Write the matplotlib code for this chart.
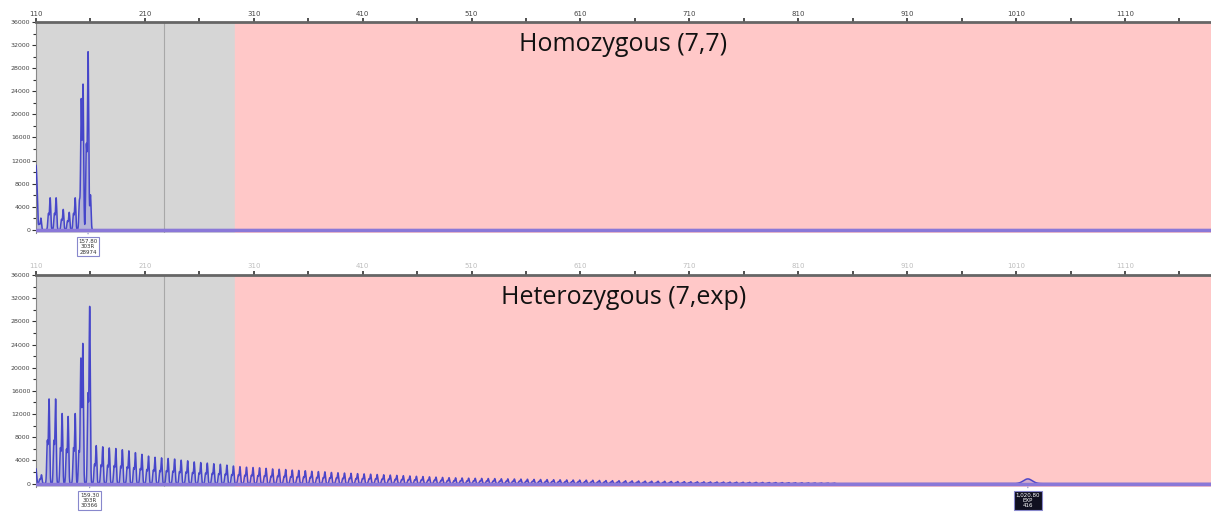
import matplotlib
matplotlib.use('Agg')
import matplotlib.pyplot as plt
import numpy as np

# x axis in bp, y axis in RFU
x_lo, x_hi = 110, 1189
gray_end = 293
marker_line = 228
xticks = [110, 210, 310, 410, 510, 610, 710, 810, 910, 1010, 1110]
yticks = [0, 4000, 8000, 12000, 16000, 20000, 24000, 28000, 32000, 36000]

# homozygous (7,7) peaks
homo_pos = [110, 111, 114.5, 123, 128.5, 135, 140.5, 146, 151.5, 153.2, 157.8, 160]
homo_h = [8300, 6000, 2000, 5500, 5500, 3500, 3000, 5500, 10000, 25000, 29000, 6000]

# heterozygous (7,exp) early peaks
het_pos = [110, 115, 122, 128, 134, 139.5, 146, 151, 153, 159.3]
het_h = [2500, 1500, 14500, 14500, 12000, 11500, 12000, 11000, 24000, 30366]

# repeat ladder after the main peak (one peak every 6 bp from 165.3)
ladder_start = 165.3
ladder_h = [6500, 6300, 6100, 6000, 5800, 5600, 5300, 5000, 4700, 4500, 4400,
            4300, 4200, 4000, 3900, 3700, 3600, 3500, 3400, 3300, 3150, 3000,
            2900, 2800, 2750, 2700, 2600, 2500, 2450, 2400, 2300, 2250, 2200,
            2100, 2050, 2000, 1900, 1850, 1800, 1750, 1700, 1650, 1600, 1550,
            1500, 1450, 1400, 1350, 1300, 1250, 1200, 1150, 1100, 1050, 1000,
            980, 950, 920, 900, 880, 860, 850,
            820, 800, 780, 760, 740, 720, 700, 680, 660, 640, 620, 600, 590,
            580, 560, 540, 520, 500, 490, 480, 460, 440, 420, 400, 390, 380,
            360, 340, 320, 300, 290, 280, 270, 260, 250, 240, 230, 220, 210,
            200, 190, 180, 170, 160, 150, 140, 130, 120, 110, 100, 90, 80]
ladder_pos = [ladder_start + 6 * i for i in range(len(ladder_h))]

exp_pos, exp_h = 1020.8, 800

xs = np.linspace(x_lo, x_hi, 30000)


def trace(pos, h, sig=0.55):
    y = np.zeros_like(xs)
    for p, a in zip(pos, h):
        y += a * np.exp(-0.5 * ((xs - p) / sig) ** 2)
        # stutter shoulder
        y += 0.5 * a * np.exp(-0.5 * ((xs - p + 1.6) / sig) ** 2)
    return y


y_top = trace(homo_pos, homo_h)
y_bot = trace(het_pos + ladder_pos, het_h + ladder_h)
y_bot += exp_h * np.exp(-0.5 * ((xs - exp_pos) / 4.0) ** 2)

fig = plt.figure(figsize=(12.11, 5.17), dpi=100)
ax1 = fig.add_axes([36 / 1211, 0.549, 1 - 36 / 1211, 0.408])
ax2 = fig.add_axes([36 / 1211, 0.058, 1 - 36 / 1211, 0.410])

setup = [(ax1, y_top, 'Homozygous (7,7)', 1.0),
         (ax2, y_bot, 'Heterozygous (7,exp)', 0.35)]
for ax, y, title, tick_alpha in setup:
    ax.axvspan(x_lo, gray_end, color='#d6d6d6', zorder=0)
    ax.axvspan(gray_end, x_hi, color='#ffc8c8', zorder=0)
    ax.axvline(marker_line, color='#a8a8a8', lw=0.8, zorder=1)
    ax.fill_between(xs, 0, y, color='#5555dd', alpha=0.25, lw=0, zorder=2)
    ax.plot(xs, y, color='#3030c8', lw=1.1, alpha=0.85, zorder=3)
    ax.axhline(0, color='#8a78d8', lw=2.5, zorder=4)
    ax.set_xlim(x_lo, x_hi)
    ax.set_ylim(-600, 36000)
    ax.xaxis.tick_top()
    ax.set_xticks(xticks)
    ax.set_xticks(np.arange(160, x_hi, 100), minor=True)
    ax.set_xticklabels([str(t) for t in xticks], fontsize=5, color='#444444', alpha=tick_alpha)
    ax.set_yticks(yticks)
    ax.set_yticks(np.arange(2000, 36000, 4000), minor=True)
    ax.set_yticklabels([str(t) for t in yticks], fontsize=4.5, color='#444444')
    ax.tick_params(axis='x', which='both', length=3, width=1.2, color='#333333', pad=1)
    ax.tick_params(axis='y', which='major', length=3, width=0.8, color='#333333', pad=1)
    ax.tick_params(axis='y', which='minor', length=2, width=0.8, color='#333333')
    for s in ['right', 'bottom']:
        ax.spines[s].set_visible(False)
    ax.spines['top'].set_color('#666666')
    ax.spines['top'].set_linewidth(2)
    ax.spines['left'].set_color('#888888')
    ax.text(0.5, 0.955, title, transform=ax.transAxes, ha='center', va='top',
            fontsize=18, family='Open Sans', color='#111111')

# peak label boxes
labels = [(ax1, 157.8, '157.80\n303R\n28974', 'white', '#333333'),
          (ax2, 159.3, '159.30\n303R\n30366', 'white', '#333333'),
          (ax2, exp_pos, '1,020.80\nEXP\n416', '#101020', 'white')]
for ax, xp, txt, fc, tc in labels:
    ax.annotate(txt, xy=(xp, -600), xytext=(0, -4), textcoords='offset points',
                fontsize=4, ha='center', va='top', color=tc,
                annotation_clip=False, linespacing=1.1,
                bbox=dict(boxstyle='square,pad=0.3', fc=fc, ec='#8888cc', lw=0.8),
                arrowprops=dict(arrowstyle='-', color='#8888cc', lw=0.8))

fig.savefig('out.png', dpi=100)
